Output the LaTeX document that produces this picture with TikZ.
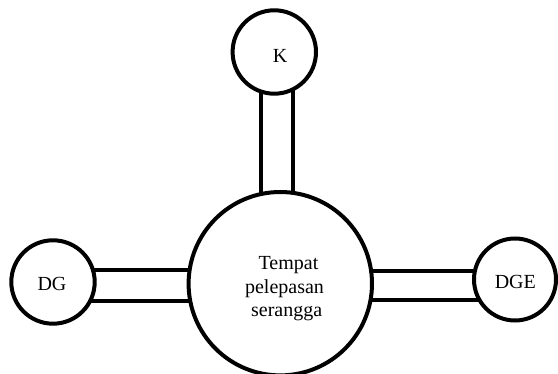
\documentclass[tikz,border=0pt]{standalone}
\usepackage{fontspec}
\setmainfont{Liberation Serif}
\usetikzlibrary{calc}
\begin{document}
\begin{tikzpicture}[x=1pt,y=-1pt,
  ring/.style={draw,circle,line width=4pt,fill=white,inner sep=0pt},
  bar/.style={line width=4pt},
  lbl/.style={font=\fontsize{20}{23}\selectfont,anchor=base,inner sep=0pt}]
\useasboundingbox (0,0) rectangle (558,374);
\coordinate (kc) at (274.3,52);
\coordinate (dgc) at (53,282);
\coordinate (dgec) at (515,279.5);
\coordinate (cc) at (280.3,283.7);
% bars (drawn first, circles cover their ends)
\draw[bar] ($(kc)+(-13.6,0)$) -- ($(cc)+(-19.6,0)$);
\draw[bar] ($(kc)+(18.2,0)$) -- ($(cc)+(12.2,0)$);
\draw[bar] ($(dgc)+(0,-11.5)$) -- ($(cc)+(0,-13.2)$);
\draw[bar] ($(dgc)+(0,18.8)$) -- ($(cc)+(0,17.1)$);
\draw[bar] ($(dgec)+(0,-8.5)$) -- ($(cc)+(0,-12.7)$);
\draw[bar] ($(dgec)+(0,20.8)$) -- ($(cc)+(0,16.6)$);
% circles
\node[ring,minimum size=83.4pt] (K) at (kc) {};
\node[ring,minimum size=83.4pt] (DG) at (dgc) {};
\node[ring,minimum size=82pt] (DGE) at (dgec) {};
\node[ring,minimum size=183.4pt] (C) at (cc) {};
\node[lbl] (tK) at (280,62.3) {K};
\node[lbl] (tDG) at (52,290.7) {DG};
\node[lbl] (tDGE) at (515.3,288.7) {DGE};
\node[lbl] (t1) at (288.5,269.5) {Tempat};
\node[lbl] (t2) at (284.5,294) {pelepasan};
\node[lbl] (t3) at (286.7,317) {serangga};
\end{tikzpicture}
\end{document}
